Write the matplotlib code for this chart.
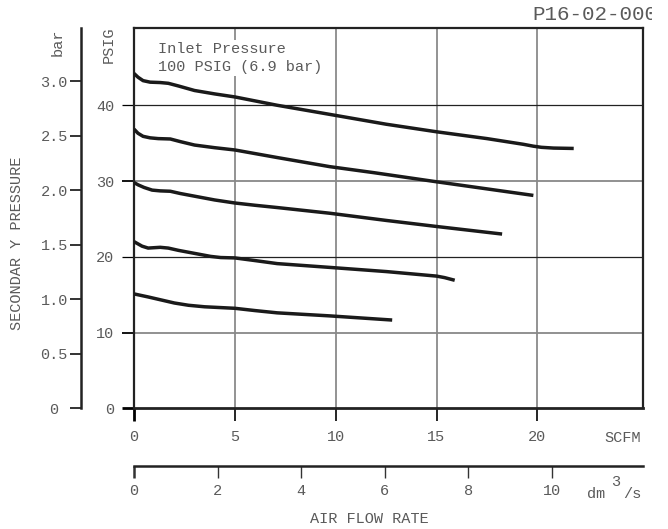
import numpy as np
import matplotlib
matplotlib.use("Agg")
import matplotlib.pyplot as plt
from matplotlib.transforms import Bbox

plt.rcParams['font.family'] = ['Liberation Mono', 'DejaVu Sans Mono']

# --- data (SCFM -> PSIG) ---
flow_1 = [0, 0.2, 0.45, 0.8, 1.3, 1.7, 2.2, 3.0, 4.0, 5.0, 7.1, 9.7, 12.5, 15.0, 17.5, 19.3, 19.8, 20.2, 20.8, 21.8]
psig_1 = [44.2, 43.7, 43.25, 43.05, 43.0, 42.9, 42.55, 41.95, 41.5, 41.1, 40.0, 38.8, 37.5, 36.5, 35.6, 34.85, 34.6, 34.45, 34.35, 34.3]

flow_2 = [0, 0.2, 0.45, 0.8, 1.2, 1.8, 2.3, 3.0, 4.0, 5.0, 7.1, 9.7, 11.9, 15.0, 17.4, 19.8]
psig_2 = [36.85, 36.3, 35.9, 35.7, 35.6, 35.55, 35.2, 34.75, 34.4, 34.1, 33.1, 31.9, 31.1, 29.9, 29.0, 28.1]

flow_3 = [0, 0.2, 0.5, 0.9, 1.3, 1.8, 2.3, 3.0, 4.0, 5.0, 6.0, 7.1, 9.7, 12.5, 15.0, 18.25]
psig_3 = [29.8, 29.5, 29.15, 28.8, 28.7, 28.65, 28.35, 28.0, 27.5, 27.1, 26.8, 26.5, 25.75, 24.8, 24.0, 23.0]

flow_4 = [0, 0.2, 0.4, 0.7, 1.0, 1.3, 1.7, 2.2, 2.7, 3.3, 3.8, 4.3, 5.0, 6.0, 7.1, 9.7, 12.5, 15.0, 15.4, 15.9]
psig_4 = [22.0, 21.7, 21.4, 21.15, 21.2, 21.25, 21.15, 20.85, 20.6, 20.3, 20.05, 19.9, 19.85, 19.5, 19.1, 18.6, 18.05, 17.45, 17.25, 16.9]

flow_5 = [0, 0.7, 1.35, 2.0, 2.7, 3.5, 5.0, 6.0, 7.1, 9.7, 12.8]
psig_5 = [15.1, 14.7, 14.3, 13.9, 13.6, 13.4, 13.2, 12.9, 12.6, 12.2, 11.65]

curves = [(flow_1, psig_1), (flow_2, psig_2), (flow_3, psig_3), (flow_4, psig_4), (flow_5, psig_5)]

scfm_ticks = [0, 5, 10, 15, 20]
psig_ticks = [0, 10, 20, 30, 40]
bar_ticks = [0, 0.5, 1.0, 1.5, 2.0, 2.5, 3.0]
bar_labels = ["0 ", "0.5", "1.0", "1.5", "2.0", "2.5", "3.0"]
dm3_ticks = [0, 2, 4, 6, 8, 10]

PSI_PER_BAR = 14.4      # as drawn on the chart
DM3_PER_SCFM = 0.483

W, H = 668, 529
def fx(x):
    return x / W
def fy(y):
    return 1 - y / H

GRAY = '#5a5a5a'
FS = 11

fig = plt.figure(figsize=(W / 100, H / 100), dpi=100)
ax = fig.add_axes([fx(134), fy(408.3), (643.3 - 134) / W, (408.3 - 28) / H])

for xs, ys in curves:
    ax.plot(xs, ys, color='#1a1a1a', lw=2.5, zorder=3, solid_capstyle='butt', solid_joinstyle='round')

ax.set_xlim(0, 25.25)
ax.set_ylim(0, 50.2)

ax.set_xticks(scfm_ticks)
ax.set_yticks(psig_ticks)
ax.grid(True)
ax.tick_params(axis='x', direction='out', length=9.5, pad=6, labelsize=FS, labelcolor=GRAY)
ax.tick_params(axis='y', direction='out', length=8.6, pad=5.5, labelsize=FS, labelcolor=GRAY)

for spine in ax.spines.values():
    spine.set_linewidth(1.6)
    spine.set_color('#222222')
ax.spines['bottom'].set_linewidth(2.0)

# per-line styling of grid and ticks
for val, tick, gl in zip(scfm_ticks, ax.xaxis.get_major_ticks(), ax.xaxis.get_gridlines()):
    if val == 0:
        tick.tick1line.set_color('#111111')
        tick.tick1line.set_markeredgewidth(2.0)
        gl.set_visible(False)
    else:
        tick.tick1line.set_color('#808080')
        tick.tick1line.set_markeredgewidth(1.2)
        gl.set_color('#808080')
        gl.set_linewidth(1.2)

for val, tick, gl in zip(psig_ticks, ax.yaxis.get_major_ticks(), ax.yaxis.get_gridlines()):
    if val == 0:
        tick.tick1line.set_color('#111111')
        tick.tick1line.set_markeredgewidth(2.0)
        gl.set_visible(False)
    elif val in (20, 40):
        tick.tick1line.set_color('#222222')
        tick.tick1line.set_markeredgewidth(0.9)
        gl.set_color('#222222')
        gl.set_linewidth(0.9)
    else:
        tick.tick1line.set_color('#888888')
        tick.tick1line.set_markeredgewidth(1.3)
        gl.set_color('#888888')
        gl.set_linewidth(1.3)

# bar scale on the far left
bax = ax.secondary_yaxis(-0.104, functions=(lambda p: p / PSI_PER_BAR, lambda b: b * PSI_PER_BAR))
bax.set_yticks(bar_ticks, bar_labels)
bax.tick_params(direction='out', length=8, width=1.4, pad=1.5, labelsize=FS, labelcolor=GRAY, color='#333333')
bax.spines['left'].set_linewidth(1.8)
bax.spines['left'].set_color('#222222')

# dm3/s scale below
dax = ax.secondary_xaxis(-0.1517, functions=(lambda s: s * DM3_PER_SCFM, lambda d: d / DM3_PER_SCFM))
dax.set_xticks(dm3_ticks)
dax.tick_params(direction='out', length=8.6, width=1.0, pad=4.5, labelsize=FS, labelcolor=GRAY, color='#333333')
dax.spines['bottom'].set_linewidth(1.8)
dax.spines['bottom'].set_color('#222222')
dax.get_xaxis().get_major_ticks()[0].tick1line.set_markeredgewidth(1.8)

# text
ax.text(0.047, 0.922, "Inlet Pressure\n100 PSIG (6.9 bar)", transform=ax.transAxes,
        ha='left', va='center', fontsize=FS, color=GRAY, linespacing=1.35, zorder=2.5,
        bbox=dict(facecolor='white', edgecolor='none', pad=1.5))

fig.text(fx(17), fy(243), "SECONDAR Y PRESSURE", rotation=90, ha='center', va='center',
         fontsize=FS, color=GRAY)
fig.text(fx(58), fy(42), "bar", rotation=90, ha='center', va='center', fontsize=FS, color=GRAY)
fig.text(fx(109), fy(44.5), "PSIG", rotation=90, ha='center', va='center', fontsize=FS, color=GRAY)
fig.text(fx(623), fy(438), "SCFM", ha='center', va='center', fontsize=FS, color=GRAY)
fig.text(fx(596), fy(494), "dm", ha='center', va='center', fontsize=FS, color=GRAY)
fig.text(fx(615.5), fy(482), "3", ha='center', va='center', fontsize=FS, color=GRAY)
fig.text(fx(632), fy(494), "/s", ha='center', va='center', fontsize=FS, color=GRAY)
fig.text(fx(369.5), fy(519), "AIR FLOW RATE", ha='center', va='center', fontsize=FS, color=GRAY)

code = fig.text(fx(532), fy(15), "P16-02-000", ha='left', va='center', fontsize=15, color=GRAY)
code.set_clip_box(Bbox.from_extents(0, 0, 652, H))
code.set_clip_on(True)

fig.savefig("out.png", dpi=100)
